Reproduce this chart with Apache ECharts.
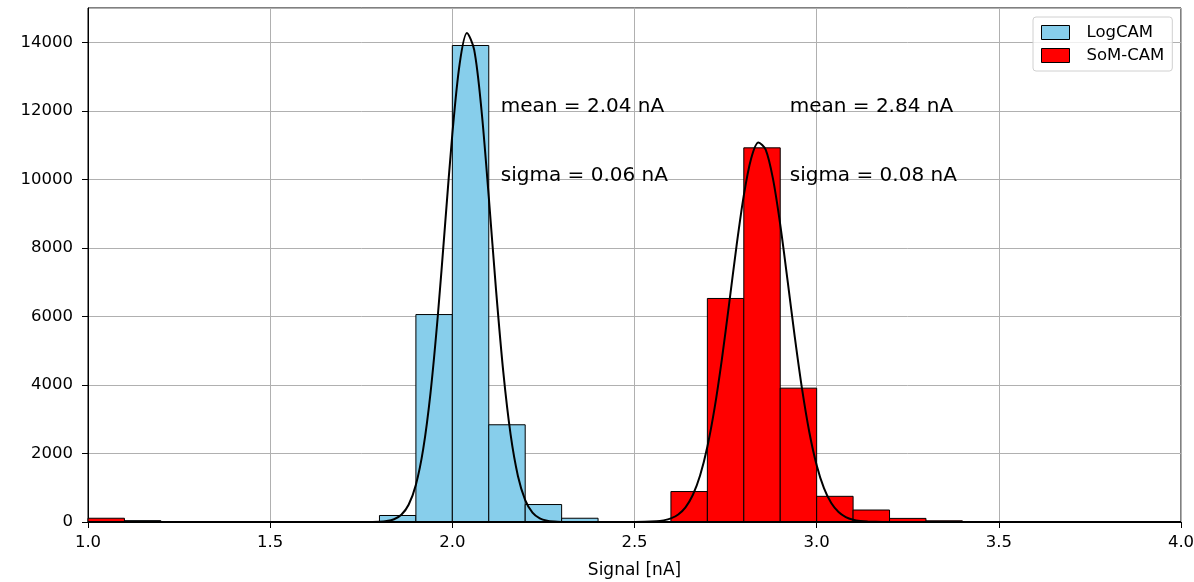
<!DOCTYPE html>
<html>
<head>
<meta charset="utf-8">
<script src="https://cdn.jsdelivr.net/npm/echarts@6/dist/echarts.min.js"></script>
<style>
  html, body { margin: 0; padding: 0; background: #fff; }
  #chart { width: 1194px; height: 582px; }
</style>
</head>
<body>
<div id="chart"></div>
<script>
// histogram bins, 0.1 nA wide
const binEdges = [1.0, 1.1, 1.2, 1.3, 1.4, 1.5, 1.6, 1.7, 1.8, 1.9, 2.0, 2.1, 2.2, 2.3, 2.4, 2.5,
  2.6, 2.7, 2.8, 2.9, 3.0, 3.1, 3.2, 3.3, 3.4, 3.5, 3.6, 3.7, 3.8, 3.9, 4.0]
const logCounts = [0, 40, 0, 0, 0, 0, 0, 0, 190, 6060, 13920, 2840, 510, 110, 0, 0,
  0, 0, 0, 0, 0, 0, 0, 0, 0, 0, 0, 0, 0, 0]
const somCounts = [110, 0, 0, 0, 0, 0, 0, 0, 0, 0, 0, 0, 0, 0, 0, 0,
  890, 6530, 10930, 3910, 750, 350, 105, 35, 0, 0, 0, 0, 0, 0]

// fitted curves
const logFitX = [1.0, 1.76, 1.80, 1.82, 1.84, 1.86, 1.88, 1.90, 1.92, 1.94, 1.96, 1.98, 2.00, 2.02, 2.04,
  2.06, 2.08, 2.10, 2.12, 2.14, 2.16, 2.18, 2.20, 2.22, 2.24, 2.26, 2.28, 2.30, 2.34, 4.0]
const logFitY = [0, 0, 8, 27, 80, 210, 503, 1088, 2127, 3760, 6003, 8673, 11329, 13378, 14284,
  13790, 12035, 9497, 6775, 4370, 2550, 1345, 641, 276, 108, 38, 12, 3, 0, 0]
const somFitX = [1.0, 2.50, 2.56, 2.58, 2.60, 2.62, 2.64, 2.66, 2.68, 2.70, 2.72, 2.74, 2.76, 2.78, 2.80,
  2.82, 2.84, 2.86, 2.88, 2.90, 2.92, 2.94, 2.96, 2.98, 3.00, 3.02, 3.04, 3.06, 3.08, 3.10,
  3.12, 3.14, 3.18, 4.0]
const somFitY = [0, 0, 20, 48, 106, 220, 430, 788, 1358, 2197, 3339, 4768, 6396, 8060, 9542,
  10612, 11086, 10880, 10031, 8688, 7069, 5403, 3880, 2616, 1658, 987, 552, 290, 143, 66,
  29, 12, 0, 0]

// text notes: [x, y, text]
const notes = [
  [2.133, 12000, 'mean = 2.04 nA'],
  [2.133, 10000, 'sigma = 0.06 nA'],
  [2.926, 12000, 'mean = 2.84 nA'],
  [2.926, 10000, 'sigma = 0.08 nA']
]

const FONT = 'DejaVu Sans'

const toBins = (counts) => counts.map((c, i) => [binEdges[i], binEdges[i + 1], c])
const toPoints = (xs, ys) => xs.map((x, i) => [x, ys[i]])

const histSeries = (name, counts, color) => ({
  name,
  type: 'custom',
  data: toBins(counts),
  encode: { x: [0, 1], y: 2 },
  itemStyle: { color, borderColor: '#000', borderWidth: 1 },
  renderItem: (params, api) => {
    const p0 = api.coord([api.value(0), api.value(2)])
    const p1 = api.coord([api.value(1), 0])
    return {
      type: 'rect',
      shape: { x: p0[0], y: p0[1], width: p1[0] - p0[0], height: p1[1] - p0[1] },
      style: { fill: color, stroke: '#000', lineWidth: 1 }
    }
  },
  z: 2
})

const fitSeries = (name, xs, ys) => ({
  name,
  type: 'line',
  data: toPoints(xs, ys),
  showSymbol: false,
  smooth: 0.3,
  lineStyle: { color: '#000', width: 2 },
  itemStyle: { color: '#000' },
  silent: true,
  z: 3
})

const chart = echarts.init(document.getElementById('chart'), null, { renderer: 'canvas' })

chart.setOption({
  animation: false,
  backgroundColor: '#fff',
  textStyle: { fontFamily: FONT },
  grid: {
    left: 88, right: 13, top: 8, bottom: 60,
    outerBoundsMode: 'none',
    containLabel: false,
    show: true, borderColor: '#000', borderWidth: 1, backgroundColor: 'transparent'
  },
  legend: {
    orient: 'vertical',
    left: 1033,
    top: 17,
    padding: [7, 8, 7, 8],
    itemGap: 6,
    itemWidth: 28,
    itemHeight: 14,
    borderColor: '#d0d0d0',
    borderWidth: 1,
    borderRadius: 3,
    backgroundColor: 'rgba(255,255,255,0.8)',
    textStyle: { fontFamily: FONT, fontSize: 16.5, color: '#000', padding: [0, 0, 0, 12] },
    data: [
      { name: 'LogCAM', icon: 'rect', itemStyle: { color: '#87CEEB', borderColor: '#000', borderWidth: 1 } },
      { name: 'SoM-CAM', icon: 'rect', itemStyle: { color: '#FF0000', borderColor: '#000', borderWidth: 1 } }
    ]
  },
  xAxis: {
    type: 'value',
    min: 1,
    max: 4,
    interval: 0.5,
    name: 'Signal [nA]',
    nameLocation: 'middle',
    nameGap: 40,
    nameTextStyle: { fontFamily: FONT, fontSize: 17, color: '#000' },
    axisLine: { show: true, onZero: false, lineStyle: { color: '#000', width: 1 } },
    axisTick: { show: true, length: 6, lineStyle: { color: '#000' } },
    axisLabel: {
      fontFamily: FONT, fontSize: 16.5, color: '#000', margin: 12,
      formatter: (v) => v.toFixed(1)
    },
    splitLine: { show: true, lineStyle: { color: '#b0b0b0', width: 1 } }
  },
  yAxis: {
    type: 'value',
    min: 0,
    max: 15015,
    interval: 2000,
    axisLine: { show: true, lineStyle: { color: '#000', width: 1 } },
    axisTick: { show: true, length: 6, lineStyle: { color: '#000' } },
    axisLabel: {
      fontFamily: FONT, fontSize: 16.5, color: '#000', margin: 15, showMaxLabel: false,
      formatter: (v) => String(v)
    },
    splitLine: { show: true, lineStyle: { color: '#b0b0b0', width: 1 } }
  },
  series: [
    histSeries('LogCAM', logCounts, '#87CEEB'),
    histSeries('SoM-CAM', somCounts, '#FF0000'),
    fitSeries('LogCAM fit', logFitX, logFitY),
    fitSeries('SoM-CAM fit', somFitX, somFitY),
    {
      name: 'notes',
      type: 'scatter',
      data: notes,
      symbolSize: 0,
      silent: true,
      itemStyle: { opacity: 1, color: '#000' },
      label: {
        show: true,
        position: 'right',
        distance: 0,
        offset: [0, -4],
        formatter: (p) => p.data[2],
        fontFamily: FONT,
        fontSize: 20,
        color: '#000',
        opacity: 1
      },
      z: 4
    }
  ]
})
</script>
</body>
</html>
